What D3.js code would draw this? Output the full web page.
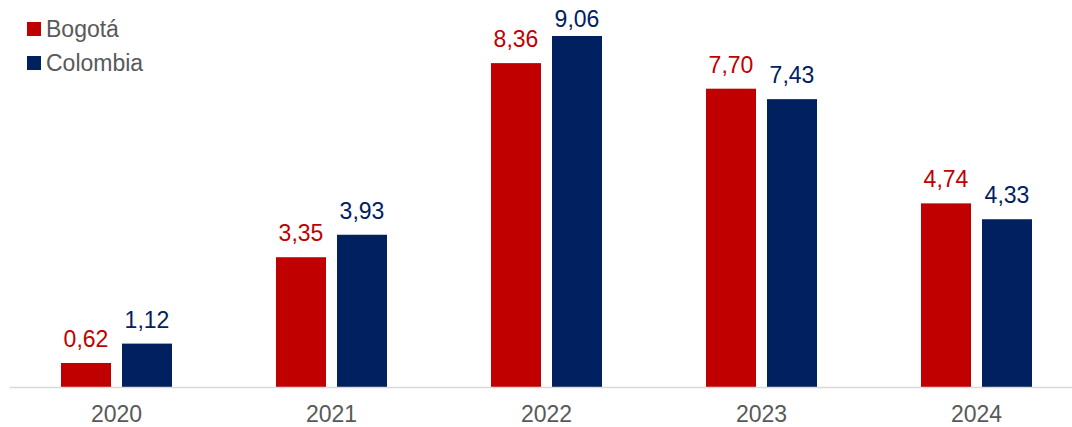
<!DOCTYPE html>
<html>
  <head>
    <meta charset="utf-8">
    <title>Bogotá vs Colombia</title>
    <script src="https://d3js.org/d3.v7.min.js"></script>
    <style>
      body { margin: 0; background: #fff; }
      text { font-family: "Liberation Sans", Arial, sans-serif; }
    </style>
  </head>
  <body>
    <div id="chart"></div>
    <script>
      // Values
      var years = ["2020", "2021", "2022", "2023", "2024"];
      var series = ["Bogotá", "Colombia"];
      var bogota = [0.62, 3.35, 8.36, 7.70, 4.74];
      var colombia = [1.12, 3.93, 9.06, 7.43, 4.33];
      var colors = ["#c00000", "#002060"];

      var width = 1072, height = 427;
      var baseline = 387;

      var data = years.map(function(y, i) {
        return { year: y, values: [bogota[i], colombia[i]] };
      });

      var svg = d3.select("#chart")
                  .append("svg")
                  .attr("width", width)
                  .attr("height", height);

      var x0 = d3.scaleBand()
                 .domain(years)
                 .range([9, 1084]);

      // two bars of 50px with an 11px gap, centred in each band
      var x1 = d3.scaleBand()
                 .domain(series)
                 .range([52, 163])
                 .paddingInner(11 / 111 * 2 / (1 + 11 / 111));

      var y = d3.scaleLinear()
                .domain([0, 9.06])
                .range([baseline, 36]);

      var fmt = function(v) { return d3.format(".2f")(v).replace(".", ","); };

      var groups = svg.selectAll(".year")
         .data(data)
         .enter()
         .append("g")
         .attr("class", "year")
         .attr("transform", function(d) { return "translate(" + x0(d.year) + ",0)"; });

      groups.selectAll("rect")
         .data(function(d) { return d.values.map(function(v, i) { return { s: series[i], v: v, i: i }; }); })
         .enter()
         .append("rect")
         .attr("x", function(d) { return x1(d.s); })
         .attr("y", function(d) { return y(d.v); })
         .attr("width", x1.bandwidth())
         .attr("height", function(d) { return baseline - y(d.v); })
         .attr("fill", function(d) { return colors[d.i]; });

      // labels sit 16px above the bar, but never above the top of the plot
      groups.selectAll(".val")
         .data(function(d) { return d.values.map(function(v, i) { return { s: series[i], v: v, i: i }; }); })
         .enter()
         .append("text")
         .attr("class", "val")
         .attr("x", function(d) { return x1(d.s) + x1.bandwidth() / 2; })
         .attr("y", function(d) { return Math.max(y(d.v) - 16, 27); })
         .attr("text-anchor", "middle")
         .attr("font-size", "23px")
         .attr("fill", function(d) { return colors[d.i]; })
         .text(function(d) { return fmt(d.v); });

      // x axis
      var axis = svg.append("g")
         .attr("transform", "translate(0," + baseline + ")")
         .call(d3.axisBottom(x0).tickSize(0).tickPadding(35));
      axis.select(".domain").attr("stroke", "#d9d9d9").attr("stroke-width", 1.5);
      axis.selectAll("text")
          .attr("font-size", "23px")
          .attr("fill", "#595959")
          .attr("dy", 0)
          .style("font-family", "'Liberation Sans', Arial, sans-serif");

      // legend
      var legend = svg.selectAll(".legend")
         .data(series)
         .enter()
         .append("g")
         .attr("class", "legend")
         .attr("transform", function(d, i) { return "translate(27," + (22 + i * 34) + ")"; });
      legend.append("rect")
         .attr("width", 14)
         .attr("height", 14)
         .attr("fill", function(d, i) { return colors[i]; });
      legend.append("text")
         .attr("x", 19)
         .attr("y", 15)
         .attr("font-size", "23px")
         .attr("fill", "#595959")
         .text(function(d) { return d; });
    </script>
  </body>
</html>
